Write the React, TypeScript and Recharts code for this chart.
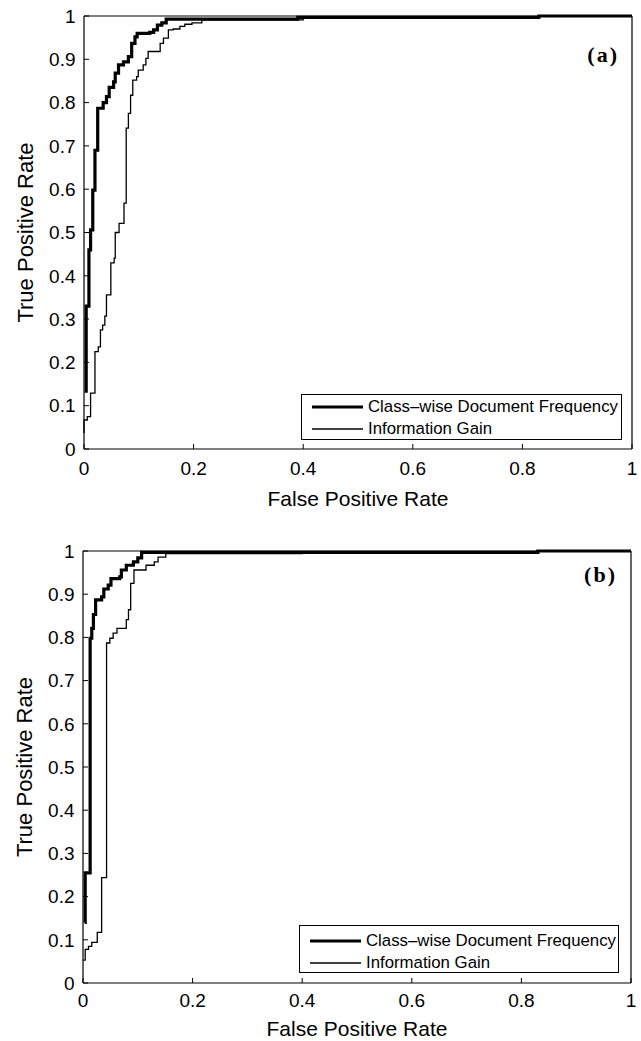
import { Legend, Line, LineChart, XAxis, YAxis } from "recharts";

// ROC points: [false positive rate, true positive rate], drawn as steps.
const cdfPanelA: [number, number][] = [
  [0.004, 0.13], [0.004, 0.33], [0.009, 0.46], [0.012, 0.506], [0.016, 0.598],
  [0.02, 0.69], [0.025, 0.787], [0.035, 0.8], [0.041, 0.814], [0.046, 0.835],
  [0.054, 0.848], [0.057, 0.868], [0.063, 0.887], [0.072, 0.894], [0.081, 0.906],
  [0.087, 0.937], [0.093, 0.952], [0.097, 0.96], [0.12, 0.962], [0.127, 0.968],
  [0.134, 0.979], [0.142, 0.984], [0.15, 0.993], [0.39, 0.997], [0.83, 1], [1, 1]
];

const igPanelA: [number, number][] = [
  [0, 0.037], [0, 0.067], [0.006, 0.075], [0.012, 0.129], [0.02, 0.141],
  [0.02, 0.225], [0.026, 0.236], [0.03, 0.275], [0.034, 0.286], [0.038, 0.307],
  [0.041, 0.356], [0.049, 0.43], [0.055, 0.441], [0.057, 0.5], [0.064, 0.521],
  [0.073, 0.568], [0.077, 0.741], [0.081, 0.775], [0.085, 0.817], [0.089, 0.852],
  [0.096, 0.86], [0.099, 0.875], [0.108, 0.887], [0.113, 0.902], [0.117, 0.918],
  [0.139, 0.937], [0.145, 0.949], [0.154, 0.968], [0.163, 0.97], [0.175, 0.976],
  [0.184, 0.981], [0.197, 0.984], [0.215, 0.991], [0.4, 0.997], [0.83, 1], [1, 1]
];

const cdfPanelB: [number, number][] = [
  [0.003, 0.14], [0.004, 0.255], [0.013, 0.3], [0.013, 0.798], [0.016, 0.821],
  [0.019, 0.853], [0.023, 0.887], [0.034, 0.894], [0.038, 0.912], [0.046, 0.921],
  [0.051, 0.936], [0.067, 0.94], [0.07, 0.956], [0.079, 0.967], [0.092, 0.975],
  [0.1, 0.984], [0.107, 0.997], [0.83, 1], [1, 1]
];

const igPanelB: [number, number][] = [
  [0, 0.053], [0.004, 0.078], [0.01, 0.085], [0.016, 0.094], [0.026, 0.117],
  [0.034, 0.244], [0.043, 0.787], [0.049, 0.798], [0.055, 0.81], [0.062, 0.821],
  [0.079, 0.841], [0.083, 0.864], [0.087, 0.925], [0.093, 0.956], [0.115, 0.967],
  [0.13, 0.975], [0.137, 0.986], [0.151, 0.994], [0.4, 0.997], [0.83, 1], [1, 1]
];

const xTicks = [0, 0.2, 0.4, 0.6, 0.8, 1];
const yTicks = [0, 0.1, 0.2, 0.3, 0.4, 0.5, 0.6, 0.7, 0.8, 0.9, 1];

const seriesNames = ["Class\u2013wise Document Frequency", "Information Gain"];
const seriesWidths = [3.2, 1.3];

const FONT = "'Liberation Sans', Arial, sans-serif";

const toRows = (pts: [number, number][]) => pts.map(([x, y]) => ({ x, y }));

function YTitle(props: any) {
  const vb = props.viewBox ?? { x: 83, y: 16, width: 1, height: 433 };
  const cx = vb.x + vb.width - 51;
  const cy = vb.y + vb.height / 2;
  return (
    <text
      x={cx}
      y={cy}
      transform={`rotate(-90, ${cx}, ${cy})`}
      textAnchor="middle"
      fontSize={22}
      fontFamily={FONT}
      fill="#000"
    >
      True Positive Rate
    </text>
  );
}

const noTick = () => <g />;

type PanelProps = {
  top: number;
  height: number;
  margin: { top: number; right: number; bottom: number; left: number };
  cdf: [number, number][];
  ig: [number, number][];
  tag: string;
  tagPos: { right: number; top: number };
  legendBox: { left: number; top: number; width: number; height: number; rowTop: number };
  xTickGap: number;
  xTitleOffset: number;
};

function RocPanel({ top, height, margin, cdf, ig, tag, tagPos, legendBox, xTickGap, xTitleOffset }: PanelProps) {
  const renderLegend = (props: any) => {
    const payload = props.payload ?? [];
    return (
      <div
        style={{
          position: "relative",
          width: legendBox.width,
          height: legendBox.height,
          boxSizing: "border-box",
          border: "1.3px solid #000",
          background: "#fff",
          fontFamily: FONT,
          fontSize: 16.8,
          color: "#000"
        }}
      >
        {payload.map((entry: any, i: number) => (
          <div
            key={entry.value}
            style={{
              position: "absolute",
              left: 0,
              top: legendBox.rowTop + i * 21.5 - 11,
              height: 22,
              display: "flex",
              alignItems: "center",
              whiteSpace: "nowrap"
            }}
          >
            <svg width={66} height={22}>
              <line x1={10} x2={61} y1={11} y2={11} stroke="#000" strokeWidth={seriesWidths[i] + (i === 1 ? 0.2 : 0)} />
            </svg>
            <span>{entry.value}</span>
          </div>
        ))}
      </div>
    );
  };

  return (
    <div style={{ position: "absolute", left: 0, top, width: 641, height }}>
      <LineChart width={641} height={height} margin={margin} style={{ fontFamily: FONT }}>
        <XAxis
          dataKey="x"
          type="number"
          domain={[0, 1]}
          ticks={xTicks}
          height={1}
          tickSize={-5}
          tickMargin={xTickGap + 5}
          tick={{ fontSize: 19, fill: "#000" }}
          axisLine={{ stroke: "#000", strokeWidth: 1.2 }}
          tickLine={{ stroke: "#000" }}
          label={{ value: "False Positive Rate", position: "bottom", offset: xTitleOffset, style: { fontSize: 21, fill: "#000" } }}
        />
        <XAxis
          xAxisId="top"
          orientation="top"
          dataKey="x"
          type="number"
          domain={[0, 1]}
          ticks={xTicks}
          height={1}
          tickSize={-5}
          tick={noTick}
          axisLine={{ stroke: "#000", strokeWidth: 1.2 }}
          tickLine={{ stroke: "#000" }}
        />
        <YAxis
          type="number"
          domain={[0, 1]}
          ticks={yTicks}
          width={1}
          tickSize={-5}
          tickMargin={13.5}
          tick={{ fontSize: 19, fill: "#000" }}
          axisLine={{ stroke: "#000", strokeWidth: 1.2 }}
          tickLine={{ stroke: "#000" }}
          label={<YTitle />}
        />
        <YAxis
          yAxisId="right"
          orientation="right"
          type="number"
          domain={[0, 1]}
          ticks={yTicks}
          width={1}
          tickSize={-5}
          tick={noTick}
          axisLine={{ stroke: "#000", strokeWidth: 1.2 }}
          tickLine={{ stroke: "#000" }}
        />
        <Legend
          layout="horizontal"
          verticalAlign="middle"
          align="center"
          content={renderLegend}
          wrapperStyle={{ left: legendBox.left, top: legendBox.top, width: legendBox.width, height: legendBox.height }}
        />
        <Line
          data={toRows(cdf)}
          dataKey="y"
          name={seriesNames[0]}
          type="stepAfter"
          stroke="#000"
          strokeWidth={seriesWidths[0]}
          dot={false}
          isAnimationActive={false}
        />
        <Line
          data={toRows(ig)}
          dataKey="y"
          name={seriesNames[1]}
          type="stepAfter"
          stroke="#000"
          strokeWidth={seriesWidths[1]}
          dot={false}
          isAnimationActive={false}
        />
      </LineChart>
      <div
        style={{
          position: "absolute",
          right: tagPos.right,
          top: tagPos.top,
          fontFamily: "'Liberation Serif', 'Times New Roman', serif",
          fontWeight: "bold",
          fontSize: 22,
          letterSpacing: "2px",
          lineHeight: "22px",
          color: "#000"
        }}
      >
        {tag}
      </div>
    </div>
  );
}

export default function App() {
  return (
    <div style={{ position: "absolute", left: 0, top: 0, width: 641, height: 1041, background: "#fff" }}>
      <RocPanel
        top={0}
        height={520}
        margin={{ top: 15, right: 8, bottom: 70, left: 83 }}
        cdf={cdfPanelA}
        ig={igPanelA}
        tag="(a)"
        tagPos={{ right: 22, top: 44 }}
        legendBox={{ left: 301, top: 394, width: 321, height: 46, rowTop: 12 }}
        xTickGap={12.5}
        xTitleOffset={41}
      />
      <RocPanel
        top={520}
        height={521}
        margin={{ top: 30, right: 9, bottom: 57, left: 82 }}
        cdf={cdfPanelB}
        ig={igPanelB}
        tag="(b)"
        tagPos={{ right: 24, top: 44 }}
        legendBox={{ left: 299, top: 405, width: 320, height: 48, rowTop: 15 }}
        xTickGap={10.5}
        xTitleOffset={37}
      />
    </div>
  );
}
